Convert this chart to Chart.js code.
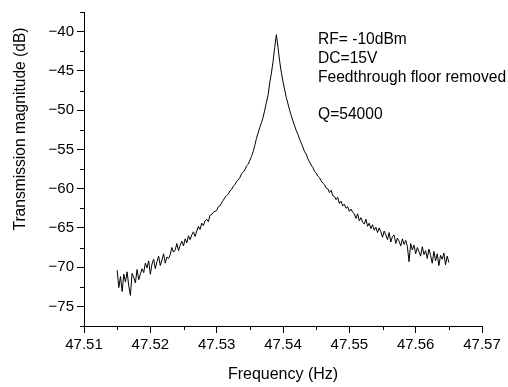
<!DOCTYPE html>
<html>
<head>
<meta charset="utf-8">
<script src="https://cdn.jsdelivr.net/npm/chart.js@4.4.1/dist/chart.umd.min.js"></script>
<style>
  html, body { margin: 0; padding: 0; background: #fff; }
  #wrap { position: relative; width: 508px; height: 387px; }
</style>
</head>
<body>
<div id="wrap"><canvas id="c" width="508" height="387"></canvas></div>
<script>
// Resonance trace (frequency in Hz, magnitude in dB)
const freq = [
  47.5150, 47.51525, 47.5155, 47.51575, 47.5160, 47.51625, 47.5165, 47.51675,
  47.5170, 47.51725, 47.5175, 47.51775, 47.5180, 47.51825, 47.5185, 47.51875,
  47.5190, 47.51925, 47.5195, 47.51975, 47.5200, 47.52025, 47.5205, 47.52075,
  47.5210, 47.52125, 47.5215, 47.52175, 47.5220, 47.52225, 47.5225, 47.52275,
  47.5230, 47.52325, 47.5235, 47.52375, 47.5240, 47.52425, 47.5245, 47.52475,
  47.5250, 47.52525, 47.5255, 47.52575, 47.5260, 47.52625, 47.5265, 47.52675,
  47.5270, 47.52725, 47.5275, 47.52775, 47.5280, 47.52825, 47.5285, 47.52875,
  47.5290, 47.52925, 47.5295, 47.52975, 47.5300, 47.53025, 47.5305, 47.53075,
  47.5310, 47.53125, 47.5315, 47.53175, 47.5320, 47.53225, 47.5325, 47.53275,
  47.5330, 47.53325, 47.5335, 47.53375, 47.5340, 47.53425, 47.5345, 47.53475,
  47.5350, 47.53525, 47.5355, 47.53575, 47.5360, 47.53625, 47.5365, 47.53675,
  47.5370, 47.53725, 47.5375, 47.53775, 47.5380, 47.53825, 47.5385, 47.53875,
  47.5390, 47.53925, 47.5395, 47.53975, 47.5400, 47.54025, 47.5405, 47.54075,
  47.5410, 47.54125, 47.5415, 47.54175, 47.5420, 47.54225, 47.5425, 47.54275,
  47.5430, 47.54325, 47.5435, 47.54375, 47.5440, 47.54425, 47.5445, 47.54475,
  47.5450, 47.54525, 47.5455, 47.54575, 47.5460, 47.54625, 47.5465, 47.54675,
  47.5470, 47.54725, 47.5475, 47.54775, 47.5480, 47.54825, 47.5485, 47.54875,
  47.5490, 47.54925, 47.5495, 47.54975, 47.5500, 47.55025, 47.5505, 47.55075,
  47.5510, 47.55125, 47.5515, 47.55175, 47.5520, 47.55225, 47.5525, 47.55275,
  47.5530, 47.55325, 47.5535, 47.55375, 47.5540, 47.55425, 47.5545, 47.55475,
  47.5550, 47.55525, 47.5555, 47.55575, 47.5560, 47.55625, 47.5565, 47.55675,
  47.5570, 47.55725, 47.5575, 47.55775, 47.5580, 47.55825, 47.5585, 47.55875,
  47.5590, 47.55925, 47.5595, 47.55975, 47.5600, 47.56025, 47.5605, 47.56075,
  47.5610, 47.56125, 47.5615, 47.56175, 47.5620, 47.56225, 47.5625, 47.56275,
  47.5630, 47.56325, 47.5635, 47.56375, 47.5640, 47.56425, 47.5645, 47.56475,
  47.5650
];
const magnitude = [
  -70.4, -72.6, -71.2, -73.1, -70.9, -71.9, -70.6, -72.4,
  -73.6, -70.8, -71.3, -72.0, -70.3, -71.6, -70.9, -70.2,
  -70.7, -69.5, -70.1, -69.2, -70.9, -69.6, -69.0, -70.2,
  -69.3, -68.6, -69.8, -69.1, -68.3, -69.5, -68.7, -68.9,
  -68.4, -67.5, -68.1, -67.8, -67.0, -67.9, -67.2, -66.7,
  -67.3, -66.4, -66.9, -66.0, -66.5, -65.9, -65.5, -66.1,
  -65.4, -64.8, -65.2, -64.4, -64.7, -64.1, -63.9, -64.2,
  -63.4, -63.3, -63.0, -62.9, -62.8, -62.3, -62.2, -61.8,
  -61.5, -61.1, -60.9, -60.7, -60.3, -60.1, -59.7, -59.5,
  -59.1, -58.9, -58.6, -58.1, -57.9, -57.6, -57.1, -56.9,
  -56.4, -55.9, -55.3, -54.5, -53.6, -52.9, -52.2, -51.6,
  -50.9, -50.0, -49.0, -48.1, -46.5, -45.3, -43.8, -42.0,
  -40.4, -42.0, -43.8, -45.2, -46.4, -47.4, -48.4, -49.2,
  -50.0, -50.7, -51.4, -52.0, -52.6, -53.1, -53.7, -54.2,
  -54.7, -55.3, -55.6, -56.2, -56.6, -57.0, -57.3, -57.8,
  -58.0, -58.4, -58.6, -59.0, -59.3, -59.5, -59.9, -60.0,
  -60.5, -60.2, -60.9, -61.0, -61.4, -61.1, -61.9, -61.6,
  -62.2, -62.0, -62.5, -62.3, -62.9, -62.6, -63.0, -63.2,
  -63.8, -63.2, -64.1, -63.7, -64.3, -64.5, -63.9, -64.8,
  -64.4, -65.1, -64.6, -65.3, -64.9, -65.6, -65.0, -65.5,
  -66.2, -65.4, -65.9, -66.5, -65.6, -66.8, -66.1, -65.9,
  -67.0, -66.3, -66.7, -67.3, -66.4, -67.1, -66.6, -67.4,
  -69.3, -67.0, -67.8, -67.2, -68.3, -67.5, -68.0, -68.6,
  -67.4, -68.4, -67.9, -68.9, -67.7, -68.5, -69.5, -68.0,
  -69.2, -68.3, -69.8, -68.5, -69.0, -68.2, -69.7, -68.6,
  -69.4
];

const xTicks = [47.51, 47.52, 47.53, 47.54, 47.55, 47.56, 47.57];
const xMinor = [47.515, 47.525, 47.535, 47.545, 47.555, 47.565];
const yTicks = [-75, -70, -65, -60, -55, -50, -45, -40];
const yMinor = [-77.5, -72.5, -67.5, -62.5, -57.5, -52.5, -47.5, -42.5, -37.5];
const notes = ['RF= -10dBm', 'DC=15V', 'Feedthrough floor removed', '', 'Q=54000'];
const xTitle = 'Frequency (Hz)';
const yTitle = 'Transmission magnitude (dB)';

const FONT = 'Arial, "Liberation Sans", sans-serif';

// minor ticks, axis titles and the note block
const extras = {
  id: 'extras',
  afterDraw(chart) {
    const { ctx, scales: { x, y }, chartArea: a } = chart;
    ctx.save();
    ctx.strokeStyle = '#000';
    ctx.lineWidth = 1;
    ctx.beginPath();
    xMinor.forEach(v => {
      const px = Math.round(x.getPixelForValue(v)) + 0.5;
      ctx.moveTo(px, a.bottom);
      ctx.lineTo(px, a.bottom + 4);
    });
    yMinor.forEach(v => {
      const py = Math.round(y.getPixelForValue(v)) + 0.5;
      ctx.moveTo(a.left, py);
      ctx.lineTo(a.left - 4, py);
    });
    ctx.stroke();

    ctx.fillStyle = '#000';
    ctx.textAlign = 'center';
    ctx.textBaseline = 'middle';
    ctx.font = '16px ' + FONT;
    ctx.fillText(xTitle, (a.left + a.right) / 2, 375);
    ctx.save();
    ctx.translate(21, 129);
    ctx.rotate(-Math.PI / 2);
    ctx.font = '15.6px ' + FONT;
    ctx.fillText(yTitle, 0, 0);
    ctx.restore();

    ctx.font = '15.6px ' + FONT;
    ctx.textAlign = 'left';
    notes.forEach((t, i) => ctx.fillText(t, 318, 40 + i * 18.7));
    ctx.restore();
  }
};

new Chart(document.getElementById('c'), {
  type: 'line',
  data: {
    datasets: [{
      data: freq.map((f, i) => ({ x: f, y: magnitude[i] })),
      borderColor: '#000',
      borderWidth: 1,
      pointRadius: 0,
      tension: 0,
      fill: false
    }]
  },
  options: {
    responsive: false,
    animation: false,
    layout: { padding: { top: 5, right: 26, left: 0, bottom: 0 } },
    plugins: { legend: { display: false }, tooltip: { enabled: false } },
    scales: {
      x: {
        type: 'linear',
        min: 47.51,
        max: 47.57,
        afterBuildTicks: s => { s.ticks = xTicks.map(v => ({ value: v })); },
        afterFit: s => { s.height = 61; },
        border: { display: true, color: '#000', width: 1 },
        grid: { display: true, drawOnChartArea: false, drawTicks: true, tickLength: 7, color: '#000' },
        ticks: {
          color: '#000',
          font: { family: FONT, size: 15 },
          padding: 3,
          maxRotation: 0,
          callback: v => v.toFixed(2)
        }
      },
      y: {
        min: -77.5,
        max: -37.5,
        afterBuildTicks: s => { s.ticks = yTicks.map(v => ({ value: v })); },
        afterFit: s => { s.width = 84; },
        border: { display: true, color: '#000', width: 1 },
        grid: { display: true, drawOnChartArea: false, drawTicks: true, tickLength: 7, color: '#000' },
        ticks: {
          color: '#000',
          font: { family: FONT, size: 15 },
          padding: 3,
          callback: v => '\u2212' + Math.abs(v)
        }
      }
    }
  },
  plugins: [extras]
});
</script>
</body>
</html>
